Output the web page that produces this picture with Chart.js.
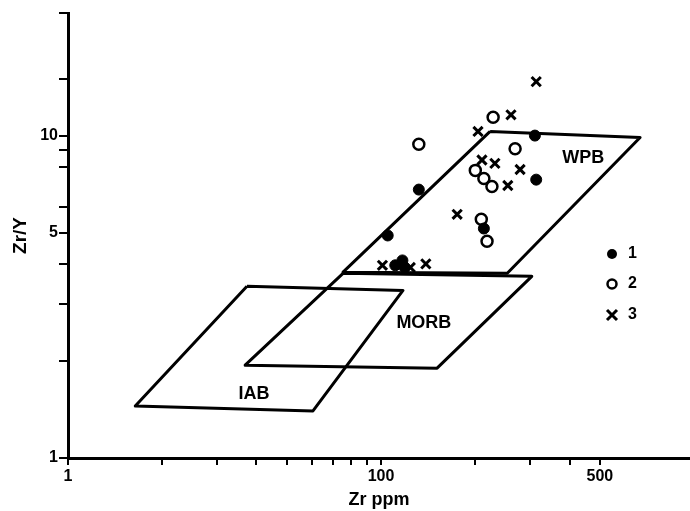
<!DOCTYPE html>
<html><head><meta charset="utf-8">
<script src="https://cdn.jsdelivr.net/npm/chart.js@4"></script>
<style>html,body{margin:0;padding:0;background:#fff}</style>
</head><body>
<canvas id="c" width="690" height="511"></canvas>
<script>
// ---- data (Zr ppm, Zr/Y) ----
const s1Zr  = [310, 313, 132, 105, 213, 111, 117, 119];
const s1ZrY = [10.0, 7.3, 6.8, 4.9, 5.15, 3.96, 4.1, 3.9];
const s2Zr  = [228, 132, 268, 200, 213, 226, 209, 218];
const s2ZrY = [11.4, 9.4, 9.1, 7.8, 7.36, 6.95, 5.5, 4.7];
const s3Zr  = [313, 260, 204, 210, 231, 278, 254, 175, 101, 124, 139];
const s3ZrY = [14.7, 11.6, 10.3, 8.4, 8.2, 7.85, 7.0, 5.7, 3.96, 3.9, 4.0];

// field outlines
const wpbZr  = [223, 672, 253, 75.6, 223];
const wpbZrY = [10.3, 9.86, 3.74, 3.77, 10.3];
const morbZr  = [75.6, 303, 151, 36.8, 75.6];
const morbZrY = [3.74, 3.66, 1.90, 1.94, 3.74];
const iabZr  = [37.3, 117.5, 60.6, 16.4, 37.3];
const iabZrY = [3.41, 3.31, 1.40, 1.45, 3.41];

const fieldNames = ['WPB', 'MORB', 'IAB'];
const fieldLabelZr  = [442, 137, 39.3];
const fieldLabelZrY = [8.49, 2.62, 1.58];

const legendLabels = ['1', '2', '3'];

// axis ticks
const xTickValues = [10, 20, 30, 40, 50, 60, 70, 80, 90, 100, 200, 300, 400, 500];
const xLabelValues = [10, 100, 500];
const xLabelTexts = ['1', '100', '500'];
const yTickValues = [1, 2, 3, 4, 5, 6, 8, 9, 10, 15, 24];
const yLabelValues = [1, 5, 10];
const yLabelTexts = ['1', '5', '10'];

const pts = (xs, ys) => xs.map((x, i) => ({x: x, y: ys[i]}));
const FONT = "'Liberation Sans', Arial, sans-serif";

const fieldDs = (xs, ys) => ({
  type: 'scatter', data: pts(xs, ys), showLine: true, fill: false,
  borderColor: '#000', borderWidth: 3, pointRadius: 0, tension: 0,
  borderJoinStyle: 'round'
});

const labelPlugin = {
  id: 'labels',
  afterDatasetsDraw(chart) {
    const ctx = chart.ctx, xs = chart.scales.x, ys = chart.scales.y;
    ctx.save();
    ctx.fillStyle = '#000';
    ctx.font = 'bold 18px ' + FONT;
    ctx.textAlign = 'center';
    ctx.textBaseline = 'middle';
    fieldNames.forEach((n, i) => {
      ctx.fillText(n, xs.getPixelForValue(fieldLabelZr[i]), ys.getPixelForValue(fieldLabelZrY[i]));
    });
    // legend
    const lx = 612, ly = [254, 284, 315];
    ctx.lineWidth = 2.5;
    ctx.strokeStyle = '#000';
    ctx.beginPath(); ctx.arc(lx, ly[0], 5, 0, Math.PI * 2); ctx.fill();
    ctx.beginPath(); ctx.arc(lx, ly[1], 4.5, 0, Math.PI * 2); ctx.stroke();
    ctx.lineWidth = 3;
    ctx.beginPath();
    ctx.moveTo(lx - 5, ly[2] - 5); ctx.lineTo(lx + 5, ly[2] + 5);
    ctx.moveTo(lx + 5, ly[2] - 5); ctx.lineTo(lx - 5, ly[2] + 5);
    ctx.stroke();
    ctx.font = 'bold 16px ' + FONT;
    ctx.textAlign = 'left';
    legendLabels.forEach((t, i) => ctx.fillText(t, lx + 16, ly[i]));
    ctx.restore();
  }
};

new Chart(document.getElementById('c'), {
  type: 'scatter',
  data: {
    datasets: [
      { data: pts(s1Zr, s1ZrY), pointStyle: 'circle', pointRadius: 5.5,
        backgroundColor: '#000', borderColor: '#000', borderWidth: 1 },
      { data: pts(s2Zr, s2ZrY), pointStyle: 'circle', pointRadius: 5.5,
        backgroundColor: '#fff', borderColor: '#000', borderWidth: 2.5 },
      { data: pts(s3Zr, s3ZrY), pointStyle: 'crossRot', pointRadius: 6.5,
        backgroundColor: '#000', borderColor: '#000', borderWidth: 3 },
      fieldDs(wpbZr, wpbZrY),
      fieldDs(morbZr, morbZrY),
      fieldDs(iabZr, iabZrY)
    ]
  },
  options: {
    responsive: false,
    animation: false,
    devicePixelRatio: 1,
    layout: { autoPadding: false, padding: { top: 13, right: 0, left: 0, bottom: 0 } },
    plugins: { legend: { display: false }, tooltip: { enabled: false } },
    scales: {
      x: {
        type: 'logarithmic', position: 'bottom', min: 10, max: 970,
        afterBuildTicks: s => { s.ticks = xTickValues.map(v => ({value: v})); },
        afterFit: s => { s.height = 53; s.paddingRight = 0; s.paddingLeft = 0; },
        ticks: {
          autoSkip: false, maxRotation: 0, padding: 2, color: '#000',
          font: { family: FONT, size: 16, weight: 'bold' },
          callback: v => { const i = xLabelValues.indexOf(v); return i >= 0 ? xLabelTexts[i] : ''; }
        },
        grid: { drawOnChartArea: false, drawTicks: true, tickLength: 7, color: '#000', lineWidth: 2 },
        border: { display: true, color: '#000', width: 3 },
        title: { display: true, text: 'Zr ppm', color: '#000', padding: 0,
                 font: { family: FONT, size: 18, weight: 'bold' } }
      },
      y: {
        type: 'logarithmic', position: 'left', min: 1, max: 24,
        afterBuildTicks: s => { s.ticks = yTickValues.map(v => ({value: v})); },
        afterFit: s => { s.width = 68; s.paddingTop = 0; s.paddingBottom = 0; },
        ticks: {
          autoSkip: false, padding: 1, color: '#000',
          font: { family: FONT, size: 16, weight: 'bold' },
          callback: v => { const i = yLabelValues.indexOf(v); return i >= 0 ? yLabelTexts[i] : ''; }
        },
        grid: { drawOnChartArea: false, drawTicks: true, tickLength: 9, color: '#000', lineWidth: 2 },
        border: { display: true, color: '#000', width: 3 },
        title: { display: true, text: 'Zr/Y', color: '#000', padding: { top: 9, bottom: 0 },
                 font: { family: FONT, size: 19, weight: 'bold' } }
      }
    }
  },
  plugins: [labelPlugin]
});
</script>
</body></html>
